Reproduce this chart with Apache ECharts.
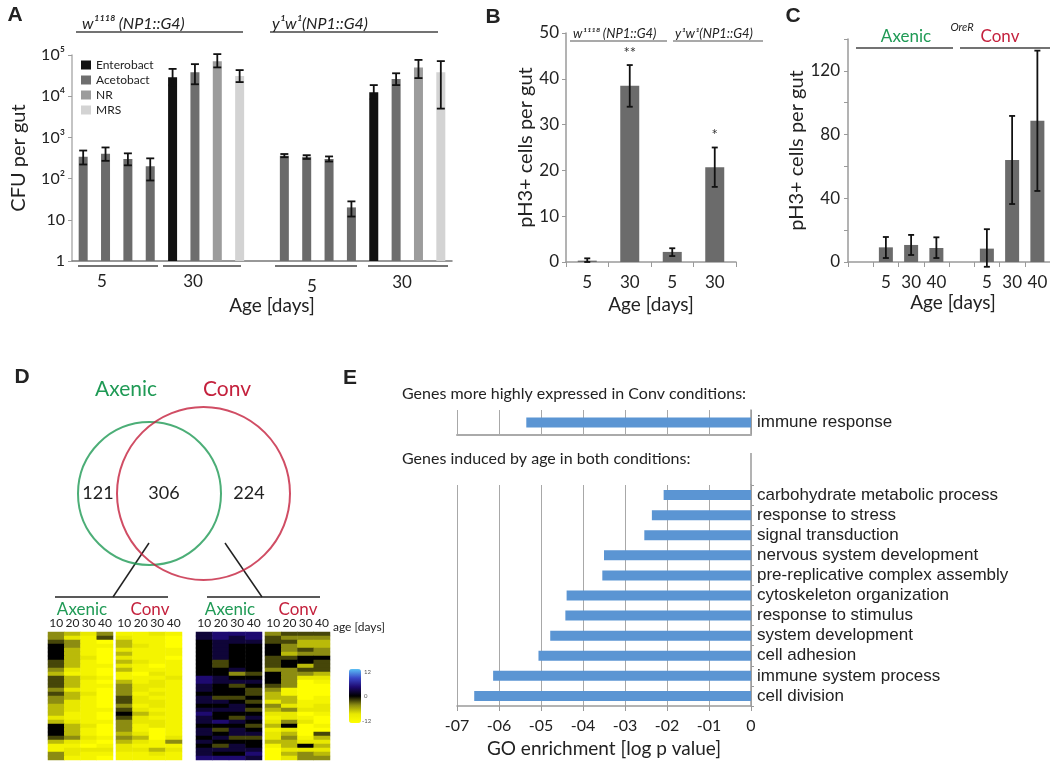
<!DOCTYPE html>
<html><head><meta charset="utf-8">
<script src="https://cdn.jsdelivr.net/npm/echarts@6/dist/echarts.min.js"></script>
<style>html,body{margin:0;padding:0;background:#fff}#c{width:1050px;height:774px}</style>
</head><body><div id="c"></div>
<script>
// ---------------- DATA ----------------
// Panel A (CFU per gut, log scale)
const aMedia = ['Enterobact', 'Acetobact', 'NR', 'MRS'];
const aGenotypes = ['w1118', 'y1w1'];
const aAges = ['5', '30'];
const aW1118d5 = [340, 400, 300, 200];
const aW1118d5Err = [[220, 480], [270, 570], [210, 410], [90, 310]];
const aW1118d30 = [29000, 38000, 71000, 31000];
const aW1118d30Err = [[18500, 46000], [19500, 60000], [50000, 105000], [22000, 43000]];
const aY1W1d5 = [360, 340, 300, 20];
const aY1W1d5Err = [[330, 395], [300, 370], [260, 345], [12, 28]];
const aY1W1d30 = [12500, 26000, 50000, 38000];
const aY1W1d30Err = [[8500, 18600], [18600, 36000], [27500, 76000], [5000, 71000]];
const aYTickLabels = ['1', '10', '10²', '10³', '10⁴', '10⁵'];

// Panel B (pH3+ cells per gut)
const bSlots = ['w1118 5', 'w1118 30', 'y1w1 5', 'y1w1 30'];
const bAgeLabels = ['5', '30', '5', '30'];
const bValues = [0.3, 38.5, 2.2, 20.7];
const bErr = [[0, 0.8], [33.9, 43], [1.3, 3.0], [16.4, 25]];
const bStars = ['', '**', '', '*'];

// Panel C (pH3+ cells per gut, OreR)
const cSlots = ['pad', 'Axenic 5', 'Axenic 30', 'Axenic 40', 'gap', 'Conv 5', 'Conv 30', 'Conv 40'];
const cAgeLabels = ['', '5', '30', '40', '', '5', '30', '40'];
const cValues = ['-', 9.2, 10.7, 8.8, '-', 8.4, 64, 88.6];
const cErr = [null, [2.5, 15.7], [4.4, 17], [2.5, 15.5], null, [-3, 20.6], [36.4, 91.7], [44.6, 132.7]];

// Panel D (Venn + heatmaps)
const vennSets = ['Axenic', 'Conv'];
const vennCounts = [121, 306, 224]; // Axenic only, shared, Conv only
const hmAges = ['10', '20', '30', '40'];
// each row: Axenic 10,20,30,40 then Conv 10,20,30,40 ; digit d -> log ratio (d-6)*2
const hmShared = ['43241121','42152110','54103110','64113210','63102111','63103111','63202110','53103211',
  '53112101','42103111','31101021','53211112','53103121','53114221','42104211','53204121',
  '43105211','42105221','32104121','32115211','31106321','21105211','32114221','63204121',
  '63104101','63103201','54214302','32103214','11012111','12222232','42111121','41101111'];
const hmConvOnly = ['78884555','78785444','67775533','67666433','67666454','67666344','67665566','65665665',
  '65665635','66764455','66456443','87666422','87776401','76565400','76654100','66653100',
  '75563301','77652311','66764212','77753422','86662201','76571210','78762420','66653601',
  '75761200','76772305','67552413','76663322','65761363','77770222','76680343','88870244'];

// Panel E (GO enrichment, log p value)
const eTopCats = ['immune response'];
const eTopVals = [-5.35];
const eCats = ['carbohydrate metabolic process', 'response to stress', 'signal transduction',
  'nervous system development', 'pre-replicative complex assembly', 'cytoskeleton organization',
  'response to stimulus', 'system development', 'cell adhesion', 'immune system process', 'cell division'];
const eVals = [-2.08, -2.36, -2.54, -3.50, -3.54, -4.39, -4.42, -4.78, -5.06, -6.14, -6.59];
const eTickLabels = ['-07', '-06', '-05', '-04', '-03', '-02', '-01', '0'];

// ---------------- CHART ----------------
const FONT = 'Lato, "Open Sans", sans-serif';
const NARROW = '"Liberation Sans Narrow", "Liberation Sans", Arial, sans-serif';
const BOLD = '"Liberation Sans", Arial, sans-serif';
const GREEN = '#1f9a55', RED = '#c4213d';
const DARK = '#6b6b6b';
const mediaColors = ['#111111', '#6e6e6e', '#9c9c9c', '#d3d3d3'];
const TXT = '#222';

const chart = echarts.init(document.getElementById('c'), null, {renderer: 'canvas'});

// Panel A slots
const aSlots = [];
aGenotypes.forEach((g, gi) => {
  if (gi > 0) aSlots.push('gap');
  aAges.forEach(age => aMedia.forEach(m => aSlots.push(g + ' ' + age + 'd ' + m)));
});
const aVals = [[aW1118d5, aW1118d30], [aY1W1d5, aY1W1d30]];
const aErrs = [[aW1118d5Err, aW1118d30Err], [aY1W1d5Err, aY1W1d30Err]];
const aIdx = (gi, ai, mi) => gi * 9 + ai * 4 + mi;
const aSeries = aMedia.map((m, mi) => {
  const data = aSlots.map(() => '-');
  aGenotypes.forEach((g, gi) => aAges.forEach((age, ai) => {
    data[aIdx(gi, ai, mi)] = {value: aVals[gi][ai][mi], itemStyle: {color: ai === 0 ? DARK : mediaColors[mi]}};
  }));
  return {type: 'bar', name: m, xAxisIndex: 0, yAxisIndex: 0, data, barWidth: 9, barGap: '-100%',
    itemStyle: {color: mediaColors[mi]}};
});
const aErrData = [];
aGenotypes.forEach((g, gi) => aAges.forEach((age, ai) => aMedia.forEach((m, mi) => {
  const e = aErrs[gi][ai][mi];
  aErrData.push([aIdx(gi, ai, mi), e[0], e[1]]);
})));

function errRender(cap, lw, stars) {
  return function (params, api) {
    const x = api.value(0), lo = api.value(1), hi = api.value(2);
    const p1 = api.coord([x, lo]), p2 = api.coord([x, hi]);
    const st = {stroke: '#111', lineWidth: lw};
    const ch = [
      {type: 'line', shape: {x1: p1[0], y1: p1[1], x2: p2[0], y2: p2[1]}, style: st},
      {type: 'line', shape: {x1: p1[0] - cap, y1: p1[1], x2: p1[0] + cap, y2: p1[1]}, style: st},
      {type: 'line', shape: {x1: p2[0] - cap, y1: p2[1], x2: p2[0] + cap, y2: p2[1]}, style: st}
    ];
    if (stars && stars[x]) {
      ch.push({type: 'text', x: p2[0], y: p2[1] - 12, style: {text: stars[x], fill: '#333', fontSize: 15,
        fontFamily: FONT, align: 'center', verticalAlign: 'middle', textAlign: 'center', textVerticalAlign: 'middle'}});
    }
    return {type: 'group', children: ch};
  };
}

function hmData(rows, off) {
  const out = [];
  rows.forEach((r, ri) => { for (let c = 0; c < 4; c++) out.push([c, ri, (Number(r[off + c]) - 6) * 2]); });
  return out;
}
const hmRowIdx = hmShared.map((r, i) => String(i));

function T(text, x, y, o) {
  o = o || {};
  const al = o.align || 'center';
  return {type: 'text', x, y, rotation: o.rot || 0, silent: true, z: 10,
    style: {text, fill: o.color || TXT, fontSize: o.size || 16, fontFamily: o.family || FONT,
      fontWeight: o.weight || 'normal', fontStyle: o.fstyle || 'normal',
      align: al, textAlign: al, verticalAlign: 'middle', textVerticalAlign: 'middle'}};
}
function L(x1, y1, x2, y2, color, w) {
  return {type: 'line', silent: true, shape: {x1, y1, x2, y2}, style: {stroke: color || '#444', lineWidth: w || 1.5}};
}

const axisGray = '#9a9a9a';
const hmGrids = [{left: 48, width: 65}, {left: 116, width: 66}, {left: 196, width: 66}, {left: 265, width: 65}];

const option = {
  animation: false,
  backgroundColor: '#fff',
  textStyle: {fontFamily: FONT},
  legend: {data: aMedia, orient: 'vertical', left: 81, top: 59, itemWidth: 10, itemHeight: 9, itemGap: 3,
    icon: 'rect', padding: 0, textStyle: {fontSize: 12, color: TXT, fontFamily: FONT}},
  grid: [
    {left: 72, top: 55, width: 380, height: 206},
    {left: 566, top: 33, width: 170, height: 229},
    {left: 848, top: 39, width: 221, height: 223},
    {left: 122.5, top: 443.5, width: 108, height: 100},
    {left: 457, top: 410, width: 294, height: 25},
    {left: 457, top: 485, width: 294, height: 221}
  ].concat(hmGrids.map(g => ({left: g.left, top: 632, width: g.width, height: 128}))),
  xAxis: [
    {gridIndex: 0, type: 'category', data: aSlots, axisLabel: {show: false}, axisTick: {show: false},
      axisLine: {lineStyle: {color: '#777', width: 1.5}}},
    {gridIndex: 1, type: 'category', data: bSlots,
      axisLabel: {formatter: (v, i) => bAgeLabels[i], fontSize: 17, color: TXT, margin: 12},
      axisTick: {show: true, length: 5, lineStyle: {color: axisGray}}, axisLine: {lineStyle: {color: axisGray, width: 1.5}},
      name: 'Age [days]', nameLocation: 'middle', nameGap: 33, nameTextStyle: {fontSize: 19, color: TXT}},
    {gridIndex: 2, type: 'category', data: cSlots,
      axisLabel: {formatter: (v, i) => cAgeLabels[i], fontSize: 17, color: TXT, margin: 12, interval: 0},
      axisTick: {show: true, length: 5, lineStyle: {color: axisGray}}, axisLine: {lineStyle: {color: axisGray, width: 1.5}}},
    {gridIndex: 3, type: 'category', data: vennSets, show: false},
    {gridIndex: 4, type: 'value', min: -7, max: 0, interval: 1, axisLabel: {show: false}, axisTick: {show: false},
      axisLine: {show: true, lineStyle: {color: '#aaa', width: 2}}, splitLine: {show: true, lineStyle: {color: '#a8a8a8'}}},
    {gridIndex: 5, type: 'value', min: -7, max: 0, interval: 1,
      axisLabel: {formatter: v => eTickLabels[Math.round(v) + 7], fontSize: 16, color: TXT, margin: 12},
      axisTick: {show: true, length: 5, lineStyle: {color: axisGray}},
      axisLine: {show: true, lineStyle: {color: axisGray, width: 1.5}}, splitLine: {show: true, lineStyle: {color: '#a8a8a8'}},
      name: 'GO enrichment [log p value]', nameLocation: 'middle', nameGap: 33, nameTextStyle: {fontSize: 19, color: TXT}}
  ].concat(hmGrids.map((g, k) => ({gridIndex: 6 + k, type: 'category', data: hmAges, position: 'top',
      axisLine: {show: false}, axisTick: {show: false}, axisLabel: {fontSize: 12, color: TXT, margin: 3, interval: 0}}))),
  yAxis: [
    {gridIndex: 0, type: 'log', logBase: 10, min: 1, max: 100000,
      axisLabel: {formatter: v => aYTickLabels[Math.round(Math.log10(v))], fontSize: 16, color: TXT, margin: 7},
      axisTick: {show: true, length: 4, lineStyle: {color: axisGray}}, axisLine: {show: true, lineStyle: {color: '#b0b0b0', width: 1.5}},
      splitLine: {show: false}, minorTick: {show: false},
      name: 'CFU per gut', nameLocation: 'middle', nameRotate: 90, nameGap: 43, nameTextStyle: {fontSize: 20, color: TXT}},
    {gridIndex: 1, type: 'value', min: 0, max: 50, interval: 10,
      axisLabel: {fontSize: 17, color: TXT, margin: 7},
      axisTick: {show: true, length: 4, lineStyle: {color: axisGray}}, axisLine: {show: true, lineStyle: {color: axisGray, width: 1.5}},
      splitLine: {show: false},
      name: 'pH3+ cells per gut', nameLocation: 'middle', nameRotate: 90, nameGap: 22, nameTextStyle: {fontSize: 20, color: TXT}},
    {gridIndex: 2, type: 'value', min: 0, max: 140, interval: 20,
      axisLabel: {formatter: v => (v % 40 === 0 ? String(v) : ''), fontSize: 17, color: TXT, margin: 8},
      axisTick: {show: true, length: 4, lineStyle: {color: axisGray}}, axisLine: {show: true, lineStyle: {color: axisGray, width: 1.5}},
      splitLine: {show: false},
      name: 'pH3+ cells per gut', nameLocation: 'middle', nameRotate: 90, nameGap: 37, nameTextStyle: {fontSize: 20, color: TXT}},
    {gridIndex: 3, type: 'value', min: -1, max: 1, show: false},
    {gridIndex: 4, type: 'category', data: eTopCats, position: 'right',
      axisLine: {show: true, lineStyle: {color: axisGray, width: 1.5}}, axisTick: {show: false},
      axisLabel: {fontSize: 17, color: TXT, fontFamily: NARROW, margin: 6, interval: 0}},
    {gridIndex: 5, type: 'category', data: eCats, inverse: true, position: 'right',
      axisLine: {show: true, lineStyle: {color: axisGray, width: 1.5}}, axisTick: {show: true, length: 3, lineStyle: {color: axisGray}},
      axisLabel: {fontSize: 17, color: TXT, fontFamily: NARROW, margin: 6, interval: 0}}
  ].concat(hmGrids.map((g, k) => ({gridIndex: 6 + k, type: 'category', data: hmRowIdx, inverse: true, show: false}))),
  visualMap: {type: 'continuous', min: -12, max: 12, seriesIndex: [12, 13, 14, 15], show: true, calculable: false,
    left: 349, top: 669, itemWidth: 12, itemHeight: 54, padding: 0, text: null, orient: 'vertical',
    inRange: {color: ['#ffff00', '#e8e800', '#8c8c12', '#000000', '#1e0a70', '#3a48c8', '#5ac0f5']}},
  series: aSeries.concat([
    {type: 'custom', xAxisIndex: 0, yAxisIndex: 0, data: aErrData, renderItem: errRender(4, 1.8), z: 5, clip: false},
    {type: 'bar', xAxisIndex: 1, yAxisIndex: 1, data: bValues, barWidth: 19, itemStyle: {color: DARK}},
    {type: 'custom', xAxisIndex: 1, yAxisIndex: 1, data: bErr.map((e, i) => [i, e[0], e[1]]), renderItem: errRender(3, 1.8, bStars), z: 5, clip: false},
    {type: 'bar', xAxisIndex: 2, yAxisIndex: 2, data: cValues, barWidth: 14, itemStyle: {color: DARK}},
    {type: 'custom', xAxisIndex: 2, yAxisIndex: 2, data: cErr.map((e, i) => e ? [i, e[0], e[1]] : null).filter(Boolean),
      renderItem: errRender(3, 1.8), z: 5, clip: false},
    {type: 'scatter', xAxisIndex: 3, yAxisIndex: 3, clip: false, silent: true,
      data: [
        {value: [0, 0], symbolSize: 143, itemStyle: {color: 'rgba(0,0,0,0)', borderColor: GREEN, borderWidth: 2}},
        {value: [1, 0], symbolSize: 173, itemStyle: {color: 'rgba(0,0,0,0)', borderColor: RED, borderWidth: 2}}
      ]},
    {type: 'bar', xAxisIndex: 4, yAxisIndex: 4, data: eTopVals, barWidth: 10, itemStyle: {color: '#5b95d3'}},
    {type: 'bar', xAxisIndex: 5, yAxisIndex: 5, data: eVals, barWidth: 10, itemStyle: {color: '#5b95d3'}},
    {type: 'heatmap', xAxisIndex: 6, yAxisIndex: 6, data: hmData(hmShared, 0), emphasis: {disabled: true}},
    {type: 'heatmap', xAxisIndex: 7, yAxisIndex: 7, data: hmData(hmShared, 4), emphasis: {disabled: true}},
    {type: 'heatmap', xAxisIndex: 8, yAxisIndex: 8, data: hmData(hmConvOnly, 0), emphasis: {disabled: true}},
    {type: 'heatmap', xAxisIndex: 9, yAxisIndex: 9, data: hmData(hmConvOnly, 4), emphasis: {disabled: true}}
  ]),
  graphic: {elements: [
    // panel letters
    T('A', 15, 15, {family: BOLD, weight: 'bold', size: 21}),
    T('B', 493, 17, {family: BOLD, weight: 'bold', size: 21}),
    T('C', 793, 16, {family: BOLD, weight: 'bold', size: 21}),
    T('D', 22, 377, {family: BOLD, weight: 'bold', size: 21}),
    T('E', 350, 378, {family: BOLD, weight: 'bold', size: 21}),
    // Panel A annotations
    T('w¹¹¹⁸ (NP1::G4)', 82, 24, {align: 'left', fstyle: 'italic', size: 16}),
    T('y¹w¹(NP1::G4)', 272, 24, {align: 'left', fstyle: 'italic', size: 16}),
    L(76, 32, 243, 32), L(270, 32, 438, 32),
    L(78, 266, 158, 266), L(163, 266, 241, 266), L(275, 266, 357, 266), L(368, 266, 448, 266),
    T(aAges[0], 102, 282, {size: 17}), T(aAges[1], 193, 282, {size: 17}),
    T(aAges[0], 312, 287, {size: 17}), T(aAges[1], 402, 283, {size: 17}),
    T('Age [days]', 272, 306, {size: 19}),
    // Panel B annotations
    T('w¹¹¹⁸ (NP1::G4)', 573, 34, {align: 'left', fstyle: 'italic', size: 13}),
    T('y¹w¹(NP1::G4)', 675, 34, {align: 'left', fstyle: 'italic', size: 13}),
    L(570, 41, 667, 41, '#555', 1.2), L(673, 41, 763, 41, '#555', 1.2),
    // Panel C annotations
    T('Axenic', 906, 37, {color: GREEN, size: 17}),
    T('OreR', 962, 27, {fstyle: 'italic', size: 11}),
    T('Conv', 1000, 37, {color: RED, size: 17}),
    L(856, 48, 953, 48, '#444', 1.5), L(960, 48, 1050, 48, '#444', 1.5),
    T('Age [days]', 953, 303, {size: 19}),
    // Panel D annotations
    T('Axenic', 126, 389, {color: GREEN, size: 21}),
    T('Conv', 227, 389, {color: RED, size: 21}),
    T(String(vennCounts[0]), 98, 493, {size: 18}),
    T(String(vennCounts[1]), 164, 493, {size: 18}),
    T(String(vennCounts[2]), 249, 493, {size: 18}),
    L(149, 543, 113, 597, '#222', 1.5), L(55, 597, 168, 597, '#222', 1.5),
    L(225, 543, 262, 597, '#222', 1.5), L(207, 597, 320, 597, '#222', 1.5),
    T('Axenic', 82, 610, {color: GREEN, size: 17}), T('Conv', 150, 610, {color: RED, size: 17}),
    T('Axenic', 230, 610, {color: GREEN, size: 17}), T('Conv', 298, 610, {color: RED, size: 17}),
    T('age [days]', 333, 627, {align: 'left', size: 12}),
    T('12', 364, 672, {align: 'left', size: 6, color: '#555'}),
    T('0', 364, 696, {align: 'left', size: 6, color: '#555'}),
    T('-12', 362, 721, {align: 'left', size: 6, color: '#555'}),
    // Panel E annotations
    T('Genes more highly expressed in Conv conditions:', 402, 394, {align: 'left', size: 16}),
    T('Genes induced by age in both conditions:', 402, 459, {align: 'left', size: 16}),
    L(751, 453, 751, 485, axisGray, 1.5)
  ]}
};
chart.setOption(option);
</script></body></html>
